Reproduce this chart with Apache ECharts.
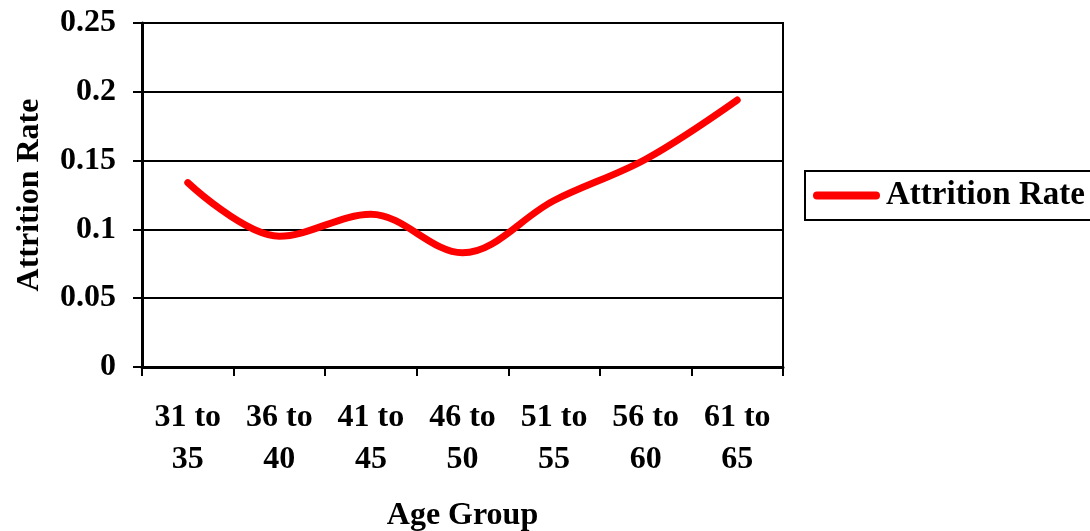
<!DOCTYPE html>
<html>
<head>
<meta charset="utf-8">
<script src="https://cdn.jsdelivr.net/npm/echarts@6/dist/echarts.min.js"></script>
<style>
  html, body { margin: 0; padding: 0; background: #fff; }
  #chart { width: 1090px; height: 531px; }
</style>
</head>
<body>
<div id="chart"></div>
<script>
// Attrition rate by age group
const ageGroups = ['31 to\n35', '36 to\n40', '41 to\n45', '46 to\n50', '51 to\n55', '56 to\n60', '61 to\n65'];
const attritionRate = [0.134, 0.095, 0.111, 0.083, 0.121, 0.151, 0.194];
const yTicks = [0, 0.05, 0.1, 0.15, 0.2, 0.25];

const FONT = '"Liberation Serif", "Times New Roman", serif';
const chart = echarts.init(document.getElementById('chart'));

chart.setOption({
  animation: false,
  backgroundColor: '#fff',
  textStyle: { fontFamily: FONT, color: '#000' },
  grid: {
    left: 142, right: 307, top: 23, bottom: 164,
    containLabel: false,
    outerBoundsMode: 'none',
    show: true, borderColor: '#000', borderWidth: 2, backgroundColor: 'transparent'
  },
  legend: {
    left: 805, top: 171,
    padding: [8, 10, 8, 8],
    borderColor: '#000', borderWidth: 2,
    itemWidth: 67, itemHeight: 8, itemGap: 0,
    icon: 'path://M4,0 H63 A4,4 0 0 1 63,8 H4 A4,4 0 0 1 4,0 Z',
    textStyle: { fontFamily: FONT, fontWeight: 'bold', fontSize: 33, color: '#000', padding: [0, 0, 0, 1] },
    data: ['Attrition Rate']
  },
  xAxis: {
    type: 'category',
    data: ageGroups,
    boundaryGap: true,
    name: 'Age Group',
    nameLocation: 'middle',
    nameGap: 133,
    nameTextStyle: { fontFamily: FONT, fontWeight: 'bold', fontSize: 32, color: '#000' },
    axisLine: { lineStyle: { color: '#000', width: 3 } },
    axisTick: { show: true, length: 9, inside: false, alignWithLabel: false, lineStyle: { color: '#000', width: 2 } },
    axisLabel: { fontFamily: FONT, fontWeight: 'bold', fontSize: 32, color: '#000', lineHeight: 42, margin: 30 },
    splitLine: { show: false }
  },
  yAxis: {
    type: 'value',
    min: 0, max: 0.25, interval: 0.05,
    name: 'Attrition Rate',
    nameLocation: 'middle',
    nameGap: 96,
    nameRotate: 90,
    nameTextStyle: { fontFamily: FONT, fontWeight: 'bold', fontSize: 32, color: '#000' },
    axisLine: { show: true, lineStyle: { color: '#000', width: 3 } },
    axisTick: { show: true, length: 9, lineStyle: { color: '#000', width: 2 } },
    axisLabel: {
      fontFamily: FONT, fontWeight: 'bold', fontSize: 32, color: '#000', margin: 26,
      formatter: v => { const t = yTicks.find(x => Math.abs(x - v) < 1e-9); return String(t !== undefined ? t : v); }
    },
    splitLine: { show: true, lineStyle: { color: '#000', width: 2 } }
  },
  series: [{
    name: 'Attrition Rate',
    type: 'line',
    data: attritionRate,
    smooth: 0.35,
    showSymbol: false,
    symbol: 'none',
    color: '#ff0000',
    lineStyle: { color: '#ff0000', width: 7, cap: 'round', join: 'round' }
  }]
});
</script>
</body>
</html>
